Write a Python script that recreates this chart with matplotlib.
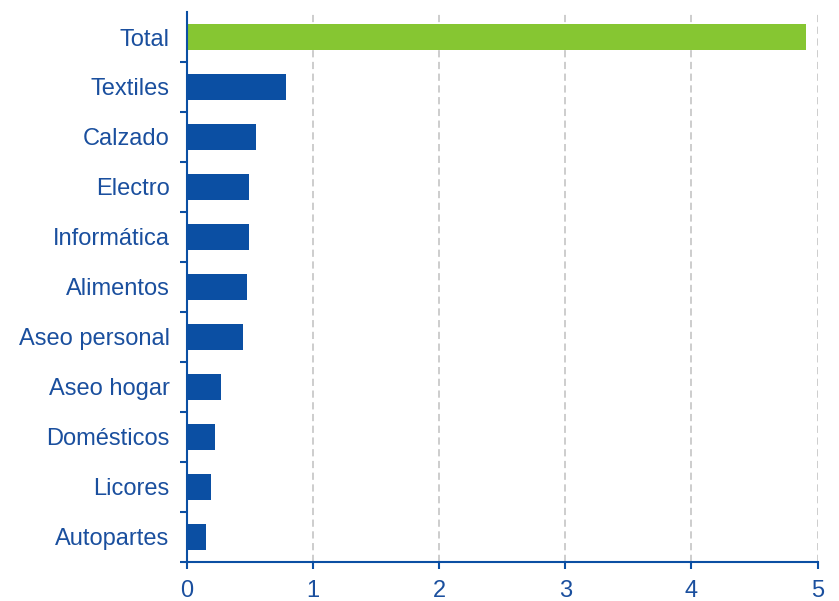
import matplotlib
matplotlib.use("Agg")
import matplotlib.pyplot as plt
import numpy as np

plt.rcParams.update({
    "font.family": ["Liberation Sans", "DejaVu Sans"],
    "font.size": 17,
})

categories = ["Total", "Textiles", "Calzado", "Electro", "Informática", "Alimentos",
              "Aseo personal", "Aseo hogar", "Domésticos", "Licores", "Autopartes"]
values = [4.91, 0.785, 0.547, 0.494, 0.494, 0.478, 0.444, 0.272, 0.222, 0.188, 0.153]

BLUE = "#0B4FA3"
GREEN = "#86C632"
TEXT = "#1A4F9E"

fig = plt.figure(figsize=(8.39, 6.01), dpi=100)
ax = fig.add_axes([0.2229, 0.0654, 0.7515, 0.9146])

y = np.arange(len(categories))
colors = [GREEN] + [BLUE] * (len(categories) - 1)
ax.barh(y, values, height=0.52, color=colors, zorder=3)

ax.set_xlim(0, 5)
ax.set_ylim(len(categories) - 0.5, -0.5)

# labels in the middle, ticks on the category boundaries
ax.set_yticks(y)
ax.set_yticklabels(categories, color=TEXT)
ax.set_yticks(np.arange(0.5, len(categories), 1.0), minor=True)
ax.tick_params(axis="y", which="major", length=0, pad=12.5)
ax.tick_params(axis="y", which="minor", length=5, width=1.5, color=BLUE, direction="out")

ax.set_xticks(range(6))
ax.tick_params(axis="x", length=5, width=1.5, color=BLUE, labelcolor=TEXT, pad=8)

ax.xaxis.grid(True, color="#C9C9C9", linestyle=(0, (4, 2.5)), linewidth=1.3, zorder=0)
ax.set_axisbelow(True)

for side in ["top", "right"]:
    ax.spines[side].set_visible(False)
for side in ["left", "bottom"]:
    ax.spines[side].set_color(BLUE)
    ax.spines[side].set_linewidth(1.5)
    ax.spines[side].set_zorder(4)

fig.savefig("out.png", dpi=100)
